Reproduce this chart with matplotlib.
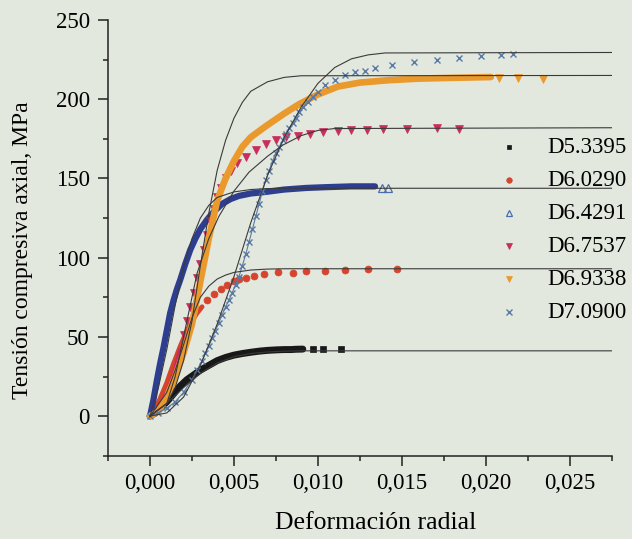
import matplotlib
matplotlib.use('Agg')
import matplotlib.pyplot as plt
from matplotlib.ticker import MultipleLocator, FuncFormatter

plt.rcParams['font.family'] = 'Liberation Serif'
plt.rcParams['font.size'] = 16.5

BACKGROUND = '#e3e8de'
FIT_COLOR = '#3a3a3a'

labels = ['D5.3395', 'D6.0290', 'D6.4291', 'D6.7537', 'D6.9338', 'D7.0900']

# measured points: radial strain vs axial compressive stress (MPa)
d53_x = [0, 0.0003, 0.0006, 0.0010, 0.0014, 0.0018, 0.0022, 0.0026, 0.0030, 0.0035, 0.0040, 0.0045,
         0.0050, 0.0055, 0.0060, 0.0065, 0.0070, 0.0075, 0.0080, 0.0084, 0.0087, 0.0091, 0.0097, 0.0103, 0.0114]
d53_y = [0, 2, 5, 9, 14, 19, 23, 26, 29, 32, 35, 37,
         38.5, 39.5, 40.3, 41, 41.5, 41.8, 42, 42, 42.2, 42.3, 42.5, 42.6, 42.6]

d60_x = [0, 0.0003, 0.0006, 0.0010, 0.0014, 0.0018, 0.0022, 0.0025, 0.0028, 0.0031, 0.0034, 0.0038, 0.0042,
         0.0046, 0.0050, 0.0053, 0.0057, 0.0062, 0.0068, 0.0076, 0.0085, 0.0093, 0.0104, 0.0116, 0.0130, 0.0147]
d60_y = [0, 4, 11, 21, 33, 44, 54, 60, 65, 69, 73, 77, 80,
         82.5, 85, 86.5, 87, 88.6, 89.7, 90.7, 90.3, 91.8, 91.8, 92.4, 92.8, 92.8]

d64_x = [0, 0.0002, 0.0004, 0.0006, 0.0008, 0.0010, 0.0012, 0.0014, 0.0016, 0.0018, 0.0021, 0.0024, 0.0027, 0.0030,
         0.0034, 0.0038, 0.0043, 0.0048, 0.0053, 0.0060, 0.0069, 0.0080, 0.0093, 0.0105, 0.0120, 0.0134, 0.0138, 0.0142]
d64_y = [0, 10, 22, 33, 43, 54, 65, 73, 80, 86, 96, 105, 112, 118,
         124, 129, 134, 137, 139, 140.5, 141.5, 143, 144, 144.5, 145, 145, 144, 144]

d67_x = [0, 0.0004, 0.0008, 0.0012, 0.0015, 0.0018, 0.0020, 0.0022, 0.0024, 0.0026, 0.0028, 0.0030, 0.0032, 0.0034,
         0.0036, 0.0038, 0.0040, 0.0042, 0.0045, 0.0048, 0.0052, 0.0057, 0.0063, 0.0069, 0.0075, 0.0081, 0.0088,
         0.0095, 0.0103, 0.0112, 0.0120, 0.0129, 0.0139, 0.0153, 0.0171, 0.0184]
d67_y = [0, 4, 10, 20, 30, 42, 51, 60, 69, 78, 87, 96, 105, 114,
         123, 131, 138, 144, 150, 155, 159.5, 163.5, 168, 172, 174.5, 176, 177,
         178, 179, 180, 180.4, 180.8, 181.2, 181.4, 182, 181.4]

d69_x = [0, 0.0005, 0.0010, 0.0015, 0.0020, 0.0025, 0.0030, 0.0035, 0.0040, 0.0045, 0.0050, 0.0055, 0.0060,
         0.0069, 0.0080, 0.0089, 0.0100, 0.0112, 0.0125, 0.0142, 0.0160, 0.0180, 0.0203, 0.0208, 0.0219, 0.0234]
d69_y = [0, 3, 12, 25, 40, 58, 85, 112, 136, 150, 161, 170, 176,
         183, 191, 197, 203, 208, 210.5, 212, 213, 213.5, 214, 213.5, 213.5, 212.5]

d70_x = [0, 0.0005, 0.0010, 0.0015, 0.0020, 0.0025, 0.0028, 0.0031, 0.0033, 0.0035, 0.0037, 0.0039, 0.0041,
         0.0043, 0.0045, 0.0047, 0.0049, 0.0051, 0.0053, 0.0055, 0.0057, 0.0059, 0.0061, 0.0063, 0.0065, 0.0067,
         0.0069, 0.0071, 0.0073, 0.0075, 0.0077, 0.0079, 0.0081, 0.0083, 0.0085, 0.0087, 0.0089, 0.0091, 0.0094,
         0.0097, 0.0100, 0.0104, 0.0110, 0.0116, 0.0122, 0.0128, 0.0134, 0.0144, 0.0157, 0.0171, 0.0184, 0.0197,
         0.0209, 0.0216]
d70_y = [0, 2, 5, 9, 15, 23, 29, 35, 40, 44, 49, 54, 59,
         64, 69, 73, 78, 83, 88, 95, 102, 110, 118, 126, 134, 142,
         149, 155, 161, 166, 170, 174, 178, 182, 185, 188, 192, 195, 198.5,
         201.5, 204.5, 209, 212, 215, 217, 218, 219.4, 221.5, 223.6, 225, 226, 227,
         227.8, 228.5]

# fitted model curves
fit53_x = [0, 0.001, 0.002, 0.003, 0.004, 0.005, 0.006, 0.007, 0.008, 0.009, 0.0275]
fit53_y = [0, 8, 18, 27, 33.5, 37.5, 39.5, 40.5, 41, 41.2, 41.2]
fit60_x = [0, 0.001, 0.0015, 0.002, 0.0025, 0.003, 0.0035, 0.004, 0.0045, 0.005, 0.006, 0.007, 0.008, 0.0275]
fit60_y = [0, 15, 29, 45, 62, 75, 82, 86.5, 89, 90.7, 92.2, 92.8, 93, 93]
fit64_x = [0, 0.0005, 0.001, 0.0015, 0.002, 0.0025, 0.003, 0.0035, 0.004, 0.005, 0.006, 0.007, 0.008, 0.0275]
fit64_y = [0, 18, 42, 70, 94, 112, 125, 133, 138, 141.5, 143, 143.6, 143.8, 143.8]
fit67_x = [0, 0.001, 0.0015, 0.002, 0.0028, 0.0035, 0.0041, 0.005, 0.0059, 0.007, 0.0079, 0.009, 0.010, 0.011, 0.0275]
fit67_y = [0, 8, 25, 50, 90, 112, 126, 142, 154, 164, 171, 177, 180.3, 181.5, 182]
fit69_x = [0, 0.001, 0.0015, 0.002, 0.0025, 0.003, 0.0035, 0.004, 0.0045, 0.005, 0.0055, 0.006, 0.007, 0.008, 0.009, 0.0275]
fit69_y = [0, 8, 18, 35, 60, 95, 128, 155, 174, 188, 198, 205, 211, 213.8, 214.8, 215]
fit70_x = [0, 0.001, 0.002, 0.003, 0.004, 0.005, 0.006, 0.007, 0.008, 0.009, 0.010, 0.011, 0.012, 0.013, 0.014, 0.0275]
fit70_y = [0, 2, 12, 32, 58, 88, 122, 152, 176, 195, 210, 220, 225.5, 228, 229.2, 229.5]

series = [(d53_x, d53_y), (d60_x, d60_y), (d64_x, d64_y), (d67_x, d67_y), (d69_x, d69_y), (d70_x, d70_y)]
fits = [(fit53_x, fit53_y), (fit60_x, fit60_y), (fit64_x, fit64_y), (fit67_x, fit67_y), (fit69_x, fit69_y), (fit70_x, fit70_y)]

styles = {
	'D5.3395': dict(color='#181818', band='#181818', marker='s', ms=4.2, mfc='#181818', band_lw=5.0, band_until=0.0091, mew=0.5),
	'D6.0290': dict(color='#d6442e', band='#d6442e', marker='o', ms=5.0, mfc='#d6442e', band_lw=3.5, band_until=0.0031, mew=0.5),
	'D6.4291': dict(color='#4a6db0', band='#2d3d90', marker='^', ms=6, mfc='none', band_lw=4.5, band_until=0.0134, mew=0.9),
	'D6.7537': dict(color='#c92d5c', band='#c92d5c', marker='v', ms=6.0, mfc='#c92d5c', band_lw=3.0, band_until=0.0018, mew=0.5),
	'D6.9338': dict(color='#ea9a2d', band='#ea9a2d', marker='v', ms=5.5, mfc='#ea9a2d', band_lw=4.8, band_until=0.0203, mew=0.5),
	'D7.0900': dict(color='#5a7aa3', band='#5a7aa3', marker='x', ms=5, mfc='none', band_lw=0.8, band_until=0.0100, mew=1.0),
}

def plot_series(axis, x, y, style):
	band = [(a, b) for a, b in zip(x, y) if a <= style['band_until']]
	loose = [(a, b) for a, b in zip(x, y) if a > style['band_until']]
	if band:
		bx, by = zip(*band)
		axis.plot(bx, by, color=style['band'], linewidth=style['band_lw'], solid_capstyle='round', zorder=2)
		if style['marker'] == 'x':
			axis.plot(bx, by, linestyle='none', marker='x', color=style['color'], markersize=style['ms'], markeredgewidth=style['mew'], zorder=2)
	if loose:
		lx, ly = zip(*loose)
		axis.plot(lx, ly, linestyle='none', marker=style['marker'], color=style['color'], markerfacecolor=style['mfc'],
		          markersize=style['ms'], markeredgewidth=style['mew'], zorder=2)

def plot_legend(axis, legend_x, legend_y, step):
	for label in labels:
		style = styles[label]
		axis.plot([legend_x], [legend_y], linestyle='none', marker=style['marker'], color=style['color'],
		          markerfacecolor=style['mfc'], markersize=style['ms'] * 0.8, markeredgewidth=style['mew'],
		          transform=axis.transAxes, clip_on=False)
		axis.text(legend_x + 0.076, legend_y, label, ha='left', va='center', fontsize=16.5, transform=axis.transAxes)
		legend_y -= step

fig = plt.figure(figsize=(6.32, 5.39), dpi=100, facecolor=BACKGROUND)
axis = fig.add_axes([0.1709, 0.1545, 0.7971, 0.8084], facecolor=BACKGROUND)

for label, (x, y), (fx, fy) in zip(labels, series, fits):
	plot_series(axis, x, y, styles[label])
	axis.plot(fx, fy, color=FIT_COLOR, linewidth=0.8, zorder=3)

plot_legend(axis, 0.796, 0.708, 0.0757)

axis.set_xlim(-0.0025, 0.0275)
axis.set_ylim(-25, 250)
axis.xaxis.set_major_locator(MultipleLocator(0.005))
axis.xaxis.set_minor_locator(MultipleLocator(0.0025))
axis.yaxis.set_major_locator(MultipleLocator(50))
axis.yaxis.set_minor_locator(MultipleLocator(25))
axis.xaxis.set_major_formatter(FuncFormatter(lambda v, pos: f'{v:.3f}'.replace('.', ',')))
axis.yaxis.set_major_formatter(FuncFormatter(lambda v, pos: f'{v:.0f}'))
axis.tick_params(which='major', length=7.2, width=1.1, color='#222222', labelsize=16.5, pad=5)
axis.tick_params(which='minor', length=3.6, width=1.1, color='#222222')
axis.tick_params(axis='y', pad=6)
for side in ('top', 'right'):
	axis.spines[side].set_visible(False)
for side in ('left', 'bottom'):
	axis.spines[side].set_linewidth(1.1)
	axis.spines[side].set_color('#222222')

fig.text(23 / 632, 1 - 250 / 539, 'Tensión compresiva axial, MPa', rotation=90, ha='center', va='center', fontsize=17)
fig.text(376 / 632, 1 - 523 / 539, 'Deformación radial', ha='center', va='center', fontsize=18.5)

fig.savefig('out.png', dpi=100, facecolor=BACKGROUND)
